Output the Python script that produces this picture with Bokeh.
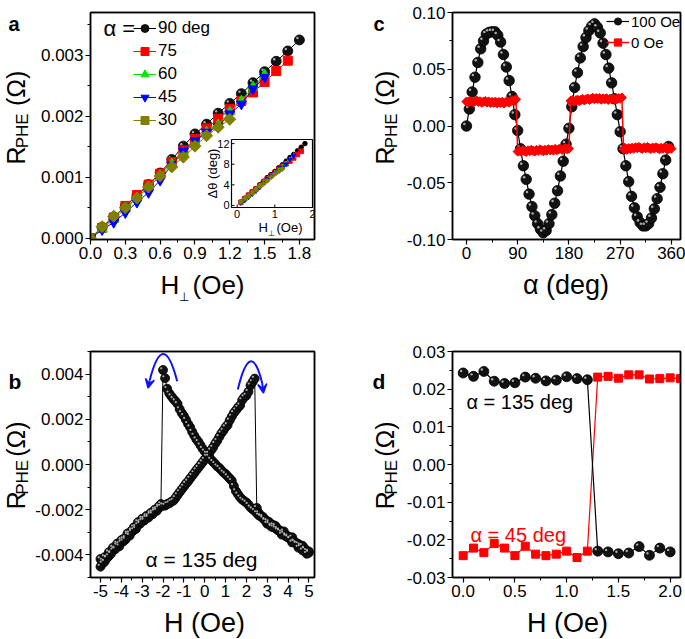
import numpy as np
from math import pi
from bokeh.plotting import figure
from bokeh.models import (Range1d, FixedTicker, Label, Legend, LegendItem, Arrow, VeeHead,
                          LinearAxis)
from bokeh.layouts import row, column
from bokeh.core.properties import value
from bokeh.embed import file_html
from bokeh.resources import INLINE

# ---------------- panel a : R_PHE vs H_perp ----------------
a_H = [0.0, 0.1, 0.2, 0.3, 0.4, 0.5, 0.6, 0.7, 0.8, 0.9, 1.0, 1.1, 1.2, 1.3, 1.4, 1.5, 1.6, 1.7, 1.8]
a_R90 = [0.0, 0.00018, 0.00035, 0.00052, 0.00070, 0.00088, 0.00107, 0.00129, 0.00151, 0.00171,
         0.00187, 0.00205, 0.00221, 0.00237, 0.00255, 0.00273, 0.00290, 0.00307, 0.00325]
a_R75 = [0.0, 0.00017, 0.00034, 0.00053, 0.00071, 0.00088, 0.00106, 0.00125, 0.00144, 0.00163,
         0.00180, 0.00196, 0.00212, 0.00225, 0.00239, 0.00256, 0.00274, 0.00291]
a_R60 = [0.0, 0.00015, 0.00031, 0.00048, 0.00066, 0.00084, 0.00103, 0.00122, 0.00140, 0.00157,
         0.00174, 0.00186, 0.00207, 0.00225, 0.00248, 0.00268]
a_R45 = [0.0, 0.00014, 0.00026, 0.00042, 0.00059, 0.00075, 0.00095, 0.00120, 0.00143, 0.00160,
         0.00174, 0.00183, 0.00204, 0.00220, 0.00245, 0.00264]
a_R30 = [0.0, 0.00019, 0.00036, 0.00050, 0.00066, 0.00084, 0.00102, 0.00117, 0.00133, 0.00151,
         0.00168, 0.00182, 0.00195]
a_labels = ["90 deg", "75", "60", "45", "30"]
# inset: delta theta (deg) vs H_perp, starting at H = 0.1
a_Hi = a_H[1:]
a_D90 = [0.7, 1.4, 2.0, 2.7, 3.3, 4.0, 4.7, 5.4, 6.0, 6.6, 7.3, 7.9, 8.6, 9.3, 9.9, 10.6, 11.3, 12.0]
a_D75 = [0.6, 1.3, 2.0, 2.6, 3.2, 3.9, 4.5, 5.2, 5.8, 6.4, 7.0, 7.6, 8.1, 8.6, 9.2, 9.9, 10.5]
a_D60 = [0.6, 1.2, 1.8, 2.5, 3.1, 3.8, 4.5, 5.1, 5.7, 6.3, 6.8, 7.5, 8.1, 8.9, 9.6]
a_D45 = [0.5, 1.0, 1.6, 2.2, 2.8, 3.5, 4.4, 5.2, 5.8, 6.3, 6.7, 7.4, 8.0, 8.9, 9.6]
a_D30 = [0.7, 1.3, 1.8, 2.4, 3.0, 3.7, 4.2, 4.8, 5.5, 6.1, 6.6, 7.1]
a_xticks = [0.0, 0.3, 0.6, 0.9, 1.2, 1.5, 1.8]
a_xticklabels = ["0.0", "0.3", "0.6", "0.9", "1.2", "1.5", "1.8"]
a_xminor = [0.15, 0.45, 0.75, 1.05, 1.35, 1.65]
a_yticks = [0.0, 0.001, 0.002, 0.003]
a_yticklabels = ["0.000", "0.001", "0.002", "0.003"]
a_yminor = [0.0005, 0.0015, 0.0025, 0.0035]
ai_xticks = [0, 1, 2]
ai_xticklabels = ["0", "1", "2"]
ai_yticks = [0, 4, 8, 12]
ai_yticklabels = ["0", "4", "8", "12"]

# ---------------- panel b : hysteresis, alpha = 135 deg (units 1e-5 Ohm) ----------------
b_H_up = np.round(np.arange(-50, 51) / 10.0, 1)          # sweep -5 -> 5 Oe
b_R_up_e5 = [-452, -438, -430, -412, -405, -392, -380, -372, -358, -352,
             -345, -330, -325, -312, -305, -298, -290, -276, -268, -255,
             -250, -240, -236, -228, -222, -212, -208, -198, -192, -186,
             -180, -182, -175, -172, -165, -160, -148, -135, -122, -110,
             -98, -85, -75, -62, -50, -38, -25, -14, -2, 10,
             22, 35, 48, 62, 75, 92, 105, 122, 138, 150,
             165, 175, 195, 212, 228, 240, 252, 262, 285, 298,
             305, 322, 350, 365, 380, -192, -215, -228, -232, -245,
             -262, -255, -270, -278, -272, -285, -292, -300, -296, -312,
             -318, -328, -322, -340, -348, -352, -365, -360, -375, -382,
             -390]
b_H_dn = b_H_up[::-1]                                      # sweep 5 -> -5 Oe
b_R_dn_e5 = [-385, -395, -372, -380, -358, -368, -350, -342, -345, -330,
             -322, -318, -305, -310, -295, -290, -282, -268, -275, -262,
             -250, -248, -238, -230, -225, -215, -205, -198, -190, -178,
             -168, -162, -155, -145, -132, -118, -95, -72, -62, -52,
             -42, -35, -25, -15, -8, 3, 12, 22, 35, 48,
             58, 70, 85, 100, 112, 128, 145, 165, 180, 198,
             215, 228, 245, 268, 280, 290, 302, 315, 335, 382,
             418, -175, -185, -205, -200, -220, -215, -235, -228, -248,
             -240, -262, -255, -285, -278, -292, -315, -305, -332, -340,
             -335, -362, -350, -375, -368, -395, -388, -415, -410, -425,
             -418]
b_xticks = [-5, -4, -3, -2, -1, 0, 1, 2, 3, 4, 5]
b_xticklabels = ["-5", "-4", "-3", "-2", "-1", "0", "1", "2", "3", "4", "5"]
b_xminor = [-4.5, -3.5, -2.5, -1.5, -0.5, 0.5, 1.5, 2.5, 3.5, 4.5]
b_yticks = [-0.004, -0.002, 0.0, 0.002, 0.004]
b_yticklabels = ["-0.004", "-0.002", "0.000", "0.002", "0.004"]
b_yminor = [-0.005, -0.003, -0.001, 0.001, 0.003, 0.005]

# ---------------- panel c : R_PHE vs alpha ----------------
c_alpha100 = np.arange(0, 360, 5)
c_R100 = [0.000, 0.015, 0.030, 0.043, 0.056, 0.068, 0.075, 0.081, 0.0825, 0.083,
          0.083, 0.080, 0.074, 0.063, 0.052, 0.040, 0.026, 0.010, -0.004, -0.020,
          -0.035, -0.047, -0.060, -0.071, -0.079, -0.086, -0.091, -0.094, -0.092, -0.086,
          -0.078, -0.068, -0.057, -0.044, -0.031, -0.016, -0.002, 0.017, 0.034, 0.047,
          0.060, 0.070, 0.078, 0.084, 0.088, 0.090, 0.087, 0.082, 0.073, 0.063,
          0.051, 0.038, 0.024, 0.010, -0.005, -0.020, -0.035, -0.049, -0.062, -0.072,
          -0.080, -0.085, -0.088, -0.088, -0.086, -0.081, -0.073, -0.064, -0.054, -0.042,
          -0.030, -0.018]
c_alpha0 = np.arange(0, 361, 3)
c_R0 = [0.0215, 0.0210, 0.0222, 0.0215, 0.0208, 0.0218, 0.0225, 0.0212, 0.0218, 0.0205,
        0.0214, 0.0220, 0.0208, 0.0216, 0.0203, 0.0212, 0.0205, 0.0214, 0.0200, 0.0210,
        0.0204, 0.0212, 0.0198, 0.0210, 0.0215, 0.0206, 0.0220, 0.0225, 0.0218, 0.0235,
        -0.0225, -0.0218, -0.0225, -0.0212, -0.0220, -0.0228, -0.0215, -0.0222, -0.0210, -0.0218,
        -0.0224, -0.0212, -0.0219, -0.0206, -0.0215, -0.0222, -0.0210, -0.0217, -0.0205, -0.0214,
        -0.0208, -0.0216, -0.0202, -0.0212, -0.0205, -0.0198, -0.0210, -0.0202, -0.0195, -0.0205,
        -0.0200,
        0.0222, 0.0228, 0.0215, 0.0225, 0.0232, 0.0220, 0.0230, 0.0238, 0.0226, 0.0235,
        0.0242, 0.0230, 0.0240, 0.0248, 0.0236, 0.0245, 0.0238, 0.0246, 0.0232, 0.0242,
        0.0236, 0.0244, 0.0230, 0.0240, 0.0235, 0.0242, 0.0230, 0.0238, 0.0245, 0.0240,
        0.0250,
        -0.0205, -0.0198, -0.0210, -0.0195, -0.0203, -0.0192, -0.0200, -0.0188, -0.0196, -0.0185,
        -0.0194, -0.0200, -0.0188, -0.0197, -0.0186, -0.0195, -0.0202, -0.0190, -0.0198, -0.0188,
        -0.0196, -0.0205, -0.0192, -0.0200, -0.0190, -0.0198, -0.0206, -0.0195, -0.0200]
c_labels = ["100 Oe", "0 Oe"]
c_xticks = [0, 90, 180, 270, 360]
c_xticklabels = ["0", "90", "180", "270", "360"]
c_xminor = [45, 135, 225, 315]
c_yticks = [-0.1, -0.05, 0.0, 0.05, 0.1]
c_yticklabels = ["-0.10", "-0.05", "0.00", "0.05", "0.10"]
c_yminor = [-0.075, -0.025, 0.025, 0.075]

# ---------------- panel d : switching at alpha = 135 / 45 deg ----------------
d_H135 = [0.0, 0.1, 0.2, 0.3, 0.4, 0.5, 0.6, 0.7, 0.8, 0.9, 1.0, 1.1, 1.2, 1.3, 1.4, 1.5, 1.6, 1.7, 1.8, 1.9, 2.0]
d_R135 = [0.0243, 0.0234, 0.0247, 0.0221, 0.0215, 0.0217, 0.0232, 0.0229, 0.0222, 0.0224,
          0.0233, 0.0228, 0.0225, -0.0230, -0.0232, -0.0237, -0.0235, -0.0218, -0.0241, -0.0222, -0.0232]
d_H45 = [0.0, 0.1, 0.2, 0.3, 0.4, 0.5, 0.6, 0.7, 0.8, 0.9, 1.0, 1.1, 1.2, 1.3, 1.4, 1.5, 1.6, 1.7, 1.8, 1.9, 2.0, 2.1]
d_R45 = [-0.0242, -0.0222, -0.0234, -0.0210, -0.0222, -0.0242, -0.0217, -0.0238, -0.0242, -0.0238,
         -0.0230, -0.0247, -0.0230, 0.0232, 0.0234, 0.0229, 0.0238, 0.0238, 0.0227, 0.0228, 0.0230, 0.0228]
d_xticks = [0.0, 0.5, 1.0, 1.5, 2.0]
d_xticklabels = ["0.0", "0.5", "1.0", "1.5", "2.0"]
d_xminor = [0.25, 0.75, 1.25, 1.75]
d_yticks = [-0.03, -0.02, -0.01, 0.0, 0.01, 0.02, 0.03]
d_yticklabels = ["-0.03", "-0.02", "-0.01", "0.00", "0.01", "0.02", "0.03"]
d_yminor = [-0.025, -0.015, -0.005, 0.005, 0.015, 0.025]

# ---------------- styling / layout ----------------
FONT = "Liberation Sans"
RED, GREEN, BLUE, OLIVE = "#ff0000", "#00e600", "#0000ff", "#808000"
MID = 0.3465   # distance (em) from alphabetic baseline up to the "middle" anchor


def make_fig(w, h, left, top, fw, fh, xr, yr, xt, xl, xm, yt, yl, ym):
    p = figure(width=w, height=h, x_range=Range1d(*xr), y_range=Range1d(*yr),
               output_backend="svg", toolbar_location=None, tools="",
               min_border_left=left, min_border_right=w - left - fw,
               min_border_top=top, min_border_bottom=h - top - fh)
    p.xgrid.visible = False
    p.ygrid.visible = False
    p.outline_line_color = "black"
    p.outline_line_width = 1.5
    p.background_fill_color = "white"
    p.border_fill_color = "white"
    for ax, t, l, m in ((p.xaxis[0], xt, xl, xm), (p.yaxis[0], yt, yl, ym)):
        ax.ticker = FixedTicker(ticks=list(t), minor_ticks=list(m))
        ax.major_label_overrides = {float(k): v for k, v in zip(t, l)}
        ax.axis_line_width = 1.5
        ax.axis_line_color = "black"
        ax.major_tick_line_color = "black"
        ax.minor_tick_line_color = "black"
        ax.major_tick_line_width = 1.2
        ax.minor_tick_line_width = 1.0
        ax.major_tick_in = 0
        ax.major_tick_out = 5
        ax.minor_tick_in = 0
        ax.minor_tick_out = 3
        ax.major_label_text_font = FONT
        ax.major_label_text_font_size = "17px"
        ax.major_label_text_color = "black"
        ax.major_label_standoff = 2
    # closing lines of the plot box (top / right)
    for loc in ("above", "right"):
        p.add_layout(LinearAxis(ticker=FixedTicker(ticks=[]), axis_line_width=1.5, axis_line_color="black",
                                major_tick_out=0, major_tick_in=0, minor_tick_out=0, minor_tick_in=0,
                                major_label_text_font_size="0px", major_label_standoff=0), loc)
    return p


def text_fig(w, h):
    f = figure(width=w, height=h, x_range=Range1d(0, w), y_range=Range1d(0, h),
               output_backend="svg", toolbar_location=None, tools="",
               x_axis_location=None, y_axis_location=None,
               min_border=0, min_border_left=0, min_border_right=0,
               min_border_top=0, min_border_bottom=0)
    f.grid.visible = False
    f.outline_line_color = None
    f.background_fill_color = "white"
    f.border_fill_color = "white"
    return f


def gt(f, x, y, text, fs, color="black", angle=0.0, align="left", bold=False):
    """Text in a title strip; (x, y) = alphabetic-baseline anchor in strip pixels (y up)."""
    if angle == 0:
        ax_, ay_ = x, y + MID * fs
    else:
        ax_, ay_ = x - MID * fs, y
    f.text(x=[ax_], y=[ay_], text=[text], angle=angle, text_align=align, text_baseline="middle",
           text_font=value(FONT), text_font_size=f"{fs}px", text_color=color,
           text_font_style="bold" if bold else "normal")


def lab(p, x, y, text, size, color="black", angle=0.0, align="left"):
    """Label inside a plot frame; (x, y) = alphabetic-baseline anchor, frame pixels."""
    if angle == 0:
        ax_, ay_ = x, y + MID * size
    else:
        ax_, ay_ = x - MID * size, y
    p.add_layout(Label(x=ax_, y=ay_, x_units="screen", y_units="screen", text=text,
                       text_font=FONT, text_font_size=f"{size}px", text_color=color, angle=angle,
                       text_align=align, text_baseline="middle"))


def ytitle(f, xb, yc, fs=25, ss=17, sub_shift=4, gap=16):
    wR, wS, wP = 0.722 * fs, 2.056 * ss, 1.434 * fs
    y0 = yc - (wR + wS + gap + wP) / 2
    gt(f, xb, y0, "R", fs, angle=pi / 2)
    gt(f, xb + sub_shift, y0 + wR + 1, "PHE", ss, angle=pi / 2)
    gt(f, xb, y0 + wR + wS + gap, "(Ω)", fs, angle=pi / 2)


def spheres(p, x, y, size, dxu, dyu):
    x = np.asarray(x, float)
    y = np.asarray(y, float)
    r = p.scatter(x, y, marker="circle", size=size, fill_color="#121212",
                  line_color="black", line_width=0.8)
    p.scatter(x - 0.2 * size * dxu, y + 0.2 * size * dyu, marker="circle", size=0.24 * size,
              fill_color="#b4b4b4", line_color=None, fill_alpha=0.95)
    return r


def legend(p, items, loc, fs, gw, gh, sp):
    lg = Legend(items=[LegendItem(label=value(l), renderers=r) for l, r in items], location=loc,
                padding=0, margin=0, border_line_color=None, background_fill_alpha=0.0,
                label_text_font=FONT, label_text_font_size=f"{fs}px", label_text_color="black",
                glyph_width=gw, glyph_height=gh, label_height=gh, label_width=10,
                spacing=sp, label_standoff=2)
    p.add_layout(lg)


# grid geometry (canvas pixels)
LTW, LPW, RTW, RPW = 32, 308, 63, 282       # title strips / plot figures widths
H1, H2, H3, H4 = 268, 40, 297, 34           # rows heights

# ================= panel a =================
FWa, FHa = 224, 227
a_xr, a_yr = (0.0, 1.93), (-0.00002, 0.0037)
pa = make_fig(LPW, H1, 58, 12, FWa, FHa, a_xr, a_yr, a_xticks, a_xticklabels, a_xminor,
              a_yticks, a_yticklabels, a_yminor)
# inset mapped onto a sub-rectangle of the frame through extra ranges
IN_L, IN_R, IN_B, IN_T = 141, 222, 32, 100
ixr, iyr = (-0.15, 2.0), (-0.4, 12.8)
sxu = (ixr[1] - ixr[0]) / (IN_R - IN_L)
syu = (iyr[1] - iyr[0]) / (IN_T - IN_B)
pa.extra_x_ranges = {"ix": Range1d(ixr[0] - IN_L * sxu, ixr[0] + (FWa - IN_L) * sxu)}
pa.extra_y_ranges = {"iy": Range1d(iyr[0] - IN_B * syu, iyr[0] + (FHa - IN_B) * syu)}
IK = dict(x_range_name="ix", y_range_name="iy")
pa.quad(left=[ixr[0]], right=[ixr[1]], bottom=[iyr[0]], top=[iyr[1]], fill_color="white",
        line_color="black", line_width=1.2, **IK)
pa.segment(x0=ai_xticks, y0=[iyr[0]] * 3, x1=ai_xticks, y1=[iyr[0] + 3 * syu] * 3,
           line_color="black", line_width=1, **IK)
pa.segment(x0=[ixr[0]] * 4, y0=ai_yticks, x1=[ixr[0] + 3 * sxu] * 4, y1=ai_yticks,
           line_color="black", line_width=1, **IK)
pa.text(x=ai_xticks, y=[iyr[0]] * 3, text=ai_xticklabels, y_offset=2, text_align="center",
        text_baseline="top", text_font=value(FONT), text_font_size="11px", text_color="black", **IK)
pa.text(x=[ixr[0]] * 4, y=ai_yticks, text=ai_yticklabels, x_offset=-2, text_align="right",
        text_baseline="middle", text_font=value(FONT), text_font_size="11px", text_color="black", **IK)
ins = [(a_D90, "black", "circle", 0), (a_D75, RED, "square", 0), (a_D60, GREEN, "triangle", 0),
       (a_D45, BLUE, "inverted_triangle", 0), (a_D30, OLIVE, "square", pi / 4)]
for d, col, mk, ang in ins:
    pa.scatter(a_Hi[:len(d)], d, marker=mk, angle=ang, size=4.5 if ang == 0 else 3.6,
               fill_color=col, line_color=col, **IK)
lab(pa, 127, (IN_B + IN_T) / 2, "Δθ (deg)", 13, angle=pi / 2, align="center")
lab(pa, 168, 7, "H", 13)
lab(pa, 177.5, 3, "⊥", 8)
lab(pa, 186, 7, "(Oe)", 13)

a_dx = (a_xr[1] - a_xr[0]) / FWa
a_dy = (a_yr[1] - a_yr[0]) / FHa
l90 = pa.line(a_H, a_R90, line_color="black", line_width=1)
s90 = spheres(pa, a_H, a_R90, 10, a_dx, a_dy)
items = [(a_labels[0], [l90, s90])]
for ys, col, mk, sz, ang, lb in [(a_R75, RED, "square", 9, 0, a_labels[1]),
                                 (a_R60, GREEN, "triangle", 10, 0, a_labels[2]),
                                 (a_R45, BLUE, "inverted_triangle", 10, 0, a_labels[3]),
                                 (a_R30, OLIVE, "square", 8.5, pi / 4, a_labels[4])]:
    xs = a_H[:len(ys)]
    ln = pa.line(xs, ys, line_color=col, line_width=1)
    sc = pa.scatter(xs, ys, marker=mk, size=sz, angle=ang, fill_color=col, line_color=col)
    items.append((lb, [ln, sc]))
legend(pa, items, (43, 109), 17, 23, 20, 3)
lab(pa, 13, 203, "α =", 22)

ya = text_fig(LTW, H1)
ytitle(ya, 24, H1 - 127)
gt(ya, 8, H1 - 20, "a", 20, bold=True)
xa = text_fig(LTW + LPW, H2)
gt(xa, 160, 14, "H", 26)
gt(xa, 178.5, 7, "⊥", 12)
gt(xa, 192, 14, "(Oe)", 26)

# ================= panel c =================
FWc, FHc = 229, 227
c_xr, c_yr = (-24.5, 376.0), (-0.1, 0.1)
pc = make_fig(RPW, H1, 48, 12, FWc, FHc, c_xr, c_yr, c_xticks, c_xticklabels, c_xminor,
              c_yticks, c_yticklabels, c_yminor)
c_dx = (c_xr[1] - c_xr[0]) / FWc
c_dy = (c_yr[1] - c_yr[0]) / FHc
lc1 = pc.line(c_alpha100, c_R100, line_color="black", line_width=1.2)
sc1 = spheres(pc, c_alpha100, c_R100, 10.5, c_dx, c_dy)
lc0 = pc.line(c_alpha0, c_R0, line_color=RED, line_width=1.5)
sc0 = pc.scatter(c_alpha0, c_R0, marker="square", angle=pi / 4, size=6.5, fill_color=RED, line_color=RED)
legend(pc, [(c_labels[0], [lc1, sc1]), (c_labels[1], [lc0, sc0])], (154, 188), 15, 23, 18, 3)

yc = text_fig(RTW, H1)
ytitle(yc, 53, H1 - 127)
gt(yc, 33, H1 - 20, "c", 20, bold=True)
xc = text_fig(685 - LTW - LPW, H2)
gt(xc, 225.5, 14, "α (deg)", 27, align="center")

# ================= panel b =================
FWb, FHb = 224, 226
b_xr, b_yr = (-5.48, 5.27), (-0.005, 0.005)
pb = make_fig(LPW, H3, 58, 43, FWb, FHb, b_xr, b_yr, b_xticks, b_xticklabels, b_xminor,
              b_yticks, b_yticklabels, b_yminor)
b_dx = (b_xr[1] - b_xr[0]) / FWb
b_dy = (b_yr[1] - b_yr[0]) / FHb
b_R_up = np.array(b_R_up_e5) * 1e-5
b_R_dn = np.array(b_R_dn_e5) * 1e-5
pb.line(b_H_up, b_R_up, line_color="black", line_width=1)
pb.line(b_H_dn, b_R_dn, line_color="black", line_width=1)
spheres(pb, np.concatenate([b_H_up, b_H_dn]), np.concatenate([b_R_up, b_R_dn]), 9, b_dx, b_dy)
# curved sweep-direction arrows
ARC = "#1010ff"
pb.quadratic(x0=[-1.32, 1.59], y0=[0.00368, 0.00332], x1=[-2.64, 2.76], y1=[0.00372, 0.0036],
             cx=[-1.99, 2.2], cy=[0.00608, 0.00566], line_color=ARC, line_width=2)
for xs0, ys0, xe, ye in [(-2.64, 0.00372, -2.72, 0.00338), (2.76, 0.0036, 2.82, 0.00316)]:
    pb.add_layout(Arrow(x_start=xs0, y_start=ys0, x_end=xe, y_end=ye, line_color=ARC, line_width=2,
                        end=VeeHead(size=9, line_color=ARC, line_width=1.5, fill_color=ARC)))
lab(pb, 55, 11, "α = 135 deg", 21)

yb = text_fig(LTW, H3)
ytitle(yb, 24, H3 - 155)
gt(yb, 8, H3 - 47, "b", 21, bold=True)
xb = text_fig(LTW + LPW, H4)
gt(xb, 204, 7, "H (Oe)", 27, align="center")

# ================= panel d =================
FWd, FHd = 229, 226
d_xr, d_yr = (-0.103, 2.1), (-0.03, 0.03)
pd_ = make_fig(RPW, H3, 48, 43, FWd, FHd, d_xr, d_yr, d_xticks, d_xticklabels, d_xminor,
               d_yticks, d_yticklabels, d_yminor)
d_dx = (d_xr[1] - d_xr[0]) / FWd
d_dy = (d_yr[1] - d_yr[0]) / FHd
pd_.line(d_H45, d_R45, line_color=RED, line_width=1.2)
pd_.scatter(d_H45, d_R45, marker="square", size=8, fill_color=RED, line_color=RED)
pd_.line(d_H135, d_R135, line_color="black", line_width=1.2)
spheres(pd_, d_H135, d_R135, 10, d_dx, d_dy)
lab(pd_, 14, 169, "α = 135 deg", 20)
lab(pd_, 18, 36, "α = 45 deg", 20, color=RED)

yd = text_fig(RTW, H3)
ytitle(yd, 53, H3 - 155)
gt(yd, 32, H3 - 47, "d", 21, bold=True)
xd = text_fig(685 - LTW - LPW, H4)
gt(xd, 227, 7, "H (Oe)", 27, align="center")

layout = column(row(ya, pa, yc, pc), row(xa, xc), row(yb, pb, yd, pd_), row(xb, xd))
open("out.html", "w").write(file_html(layout, INLINE))
